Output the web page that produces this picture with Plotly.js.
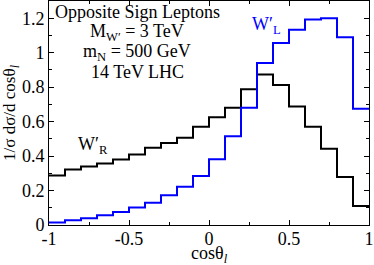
<!DOCTYPE html>
<html><head><meta charset="utf-8">
<script src="https://cdn.plot.ly/plotly-3.0.1.min.js"></script>
<style>html,body{margin:0;padding:0;background:#fff}#c{width:374px;height:265px}</style>
</head><body><div id="c"></div>
<script>
const binEdges = [-1,-0.9,-0.8,-0.7,-0.6,-0.5,-0.4,-0.3,-0.2,-0.1,0,0.1,0.2,0.3,0.4,0.5,0.6,0.7,0.8,0.9,1];
const wR = [0.287,0.322,0.340,0.357,0.380,0.409,0.448,0.476,0.507,0.570,0.626,0.680,0.788,0.873,0.812,0.688,0.570,0.442,0.279,0.110];
const wL = [0.015,0.027,0.039,0.056,0.076,0.101,0.129,0.172,0.222,0.285,0.381,0.515,0.680,0.940,1.056,1.133,1.193,1.200,1.090,0.674];
const xTicks = [-1,-0.5,0,0.5,1];
const xTickText = ['-1','-0.5','0','0.5','1'];
const yTicks = [0,0.2,0.4,0.6,0.8,1,1.2];
const yTickText = ['0','0.2','0.4','0.6','0.8','1','1.2'];

function stepY(v){ return v.concat([v[v.length-1]]); }
const F = 'Liberation Serif, Times New Roman, serif';
const traces = [
  {x: binEdges, y: stepY(wR), mode:'lines', line:{shape:'hv', color:'#000000', width:2}, hoverinfo:'skip'},
  {x: binEdges, y: stepY(wL), mode:'lines', line:{shape:'hv', color:'#0000ff', width:2}, hoverinfo:'skip'}
];
const axCommon = {showgrid:false, zeroline:false, showline:true, mirror:'allticks', linecolor:'#000', linewidth:1,
  ticks:'inside', ticklen:5, tickwidth:1, tickcolor:'#000', tickfont:{family:F, size:18, color:'#000'}};
const ann = (x, y, text, color, xref, yref) => ({xref:xref||'paper', yref:yref||'paper', x:x, y:y, text:text,
  showarrow:false, xanchor:'center', yanchor:'middle', font:{family:F, size:18, color:color||'#000'}});
const layout = {
  width:374, height:265, margin:{l:49, r:5, t:1, b:40},
  paper_bgcolor:'#fff', plot_bgcolor:'#fff', showlegend:false,
  font:{family:F, color:'#000'},
  xaxis: Object.assign({}, axCommon, {range:[-1,1], tickmode:'array', tickvals:xTicks, ticktext:xTickText,
    ticklabelstandoff:-3,
    minor:{dtick:0.25, ticks:'inside', ticklen:3, tickcolor:'#000'}}),
  yaxis: Object.assign({}, axCommon, {range:[0,1.3], tickmode:'array', tickvals:yTicks, ticktext:yTickText,
    minor:{dtick:0.1, ticks:'inside', ticklen:3, tickcolor:'#000'},
    title:{text:'1/σ dσ/d cosθ<sub><i>l</i></sub>', font:{family:F, size:17}, standoff:2}}),
  annotations: [
    ann(0.276, 0.950, 'Opposite Sign Leptons'),
    ann(0.276, 0.860, 'M<sub>W′</sub> = 3 TeV'),
    ann(0.276, 0.772, 'm<sub>N</sub> = 500 GeV'),
    ann(0.276, 0.682, '14 TeV LHC'),
    ann(-0.725, 0.46, 'W′<sub>R</sub>', '#000', 'x', 'y'),
    ann(0.36, 1.16, 'W′<sub>L</sub>', '#0000ff', 'x', 'y'),
    ann(0.5, -0.13, 'cosθ<sub><i>l</i></sub>')
  ]
};
Plotly.newPlot('c', traces, layout, {staticPlot:true, displayModeBar:false});
</script></body></html>
